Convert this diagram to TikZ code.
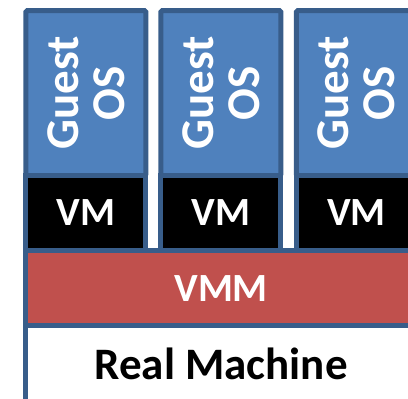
\documentclass[tikz,border=0pt]{standalone}
\usepackage{fontspec}
\setmainfont{Carlito}
\definecolor{guestfill}{HTML}{4F81BD}
\definecolor{boxline}{HTML}{385D8A}
\definecolor{vmmfill}{HTML}{C0504D}
\tikzset{
  layer/.style={draw=boxline, line width=5bp, inner sep=0pt, font=\bfseries},
  guestbox/.style={layer, fill=guestfill, text=white, rotate=90,
                   minimum width=165bp, minimum height=120bp,
                   rounded corners=1.5bp, align=center,
                   font=\bfseries\fontsize{47bp}{46bp}\selectfont},
  vmbox/.style={layer, fill=black, text=white,
                minimum width=120bp, minimum height=75bp,
                font=\bfseries\fontsize{40bp}{40bp}\selectfont},
  vmmbox/.style={layer, fill=vmmfill, text=white,
                 minimum width=390.7bp, minimum height=75.3bp,
                 font=\bfseries\fontsize{40bp}{40bp}\selectfont},
  realbox/.style={layer, fill=white, text=black,
                  minimum width=390.7bp, minimum height=75.2bp,
                  font=\bfseries\fontsize{45bp}{45bp}\selectfont},
}
\begin{document}
\begin{tikzpicture}[x=1bp, y=-1bp]
  \useasboundingbox (0,0) rectangle (408,399);
  \clip (0,0) rectangle (408,399);
  % guest systems with their virtual machines
  \foreach \i/\cx in {1/85.8, 2/220.8, 3/356.5} {
    \node[guestbox] (guest\i) at (\cx, 93) {Guest\\OS};
    \node[vmbox] (vm\i) at (\cx, 213) {VM};
  }
  % monitor and hardware
  \node[vmmbox] (vmm) at (221.15, 288.15) {VMM};
  \node[realbox] (real) at (221.15, 363.4) {Real Machine};
\end{tikzpicture}
\end{document}
